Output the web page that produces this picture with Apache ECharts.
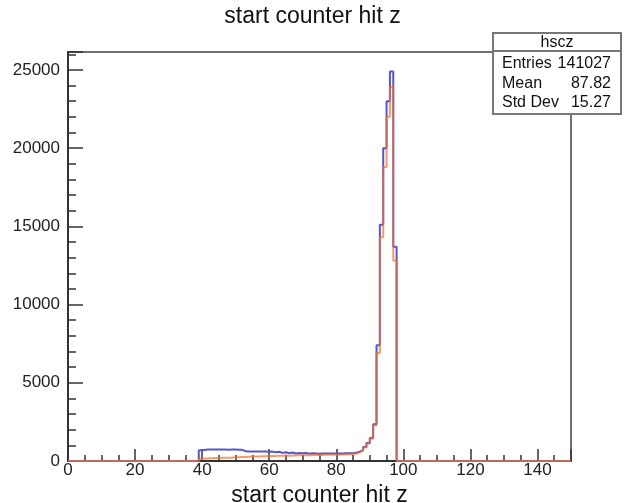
<!DOCTYPE html>
<html>
<head>
<meta charset="utf-8">
<script src="https://cdn.jsdelivr.net/npm/echarts@6/dist/echarts.min.js"></script>
<style>
  html, body { margin: 0; padding: 0; background: #fff; }
  #chart { width: 625px; height: 503px; }
</style>
</head>
<body>
<div id="chart"></div>
<script>
// Histogram binning: 1 unit wide bins, filled range starts at z = 39
const binLow = 39;
const xMin = 0, xMax = 150;

// hscz counts per bin (z = 39 .. 97)
const hsczCounts = [
  680, 720, 730, 735, 730, 730, 735, 730, 725, 730,
  730, 720, 715, 620, 615, 610, 605, 600, 600, 600,
  590, 600, 560, 590, 520, 560, 500, 540, 480, 515,
  500, 505, 470, 490, 480, 470, 480, 485, 480, 475,
  480, 480, 485, 490, 490, 500, 530, 600, 700, 900,
  1150, 1470, 2350, 7400, 15100, 20000, 23000, 24900, 13700
];

// second distribution overlaid on the same bins (z = 39 .. 97)
const overlayCounts = [
  150, 165, 170, 180, 185, 190, 200, 205, 215, 220,
  230, 240, 250, 260, 270, 280, 285, 295, 300, 305,
  315, 320, 325, 335, 330, 345, 340, 350, 345, 360,
  365, 370, 370, 380, 385, 390, 390, 395, 400, 405,
  400, 405, 410, 420, 430, 445, 480, 560, 660, 860,
  1100, 1420, 2280, 6900, 14300, 18800, 22000, 23900, 12800
];

const yTicks = [0, 5000, 10000, 15000, 20000, 25000];
const xTicks = [0, 20, 40, 60, 80, 100, 120, 140];

const statsName = 'hscz';
const statsRows = [
  ['Entries', '141027'],
  ['Mean', '87.82'],
  ['Std Dev', '15.27']
];

// Turn bin contents into step-line points covering the full axis range
function toSteps(counts) {
  const pts = [[xMin, 0]];
  for (let i = 0; i < counts.length; i++) {
    pts.push([binLow + i, counts[i]]);
  }
  pts.push([binLow + counts.length, 0]);
  pts.push([xMax, 0]);
  return pts;
}

const yMax = Math.max.apply(null, hsczCounts) * 1.05;
const font = 'Liberation Sans, Arial, sans-serif';

const chart = echarts.init(document.getElementById('chart'), null, { renderer: 'canvas' });

// Statistics box in the top-right corner
const boxL = 493, boxT = 33, boxW = 128, boxH = 81, headH = 18;
const statsGraphics = [
  { type: 'rect', shape: { x: boxL, y: boxT, width: boxW, height: boxH },
    style: { fill: '#fff', stroke: '#777', lineWidth: 2 }, z: 100 },
  { type: 'line', shape: { x1: boxL, y1: boxT + headH, x2: boxL + boxW, y2: boxT + headH },
    style: { stroke: '#777', lineWidth: 2 }, z: 101 },
  { type: 'text', x: boxL + boxW / 2, y: boxT + headH / 2 + 1,
    style: { text: statsName, font: '16px ' + font, fill: '#111', align: 'center', verticalAlign: 'middle' }, z: 102 }
];
statsRows.forEach(function (row, i) {
  const cy = boxT + headH + 13 + i * 19.5;
  statsGraphics.push({ type: 'text', x: boxL + 9, y: cy,
    style: { text: row[0], font: '16px ' + font, fill: '#111', align: 'left', verticalAlign: 'middle' }, z: 102 });
  statsGraphics.push({ type: 'text', x: boxL + boxW - 10, y: cy,
    style: { text: row[1], font: '16px ' + font, fill: '#111', align: 'right', verticalAlign: 'middle' }, z: 102 });
});

const labelOnTicks = function (list) {
  return function (v) { return list.indexOf(v) >= 0 ? String(v) : ''; };
};

chart.setOption({
  animation: false,
  backgroundColor: '#fff',
  title: {
    text: 'start counter hit z',
    left: 'center',
    top: 0,
    textStyle: { fontFamily: font, fontSize: 23, fontWeight: 'normal', color: '#111' }
  },
  grid: {
    left: 68, right: 54, top: 52, bottom: 42,
    outerBoundsMode: 'none', containLabel: false,
    show: true, borderColor: '#6f6f6f', borderWidth: 2, backgroundColor: 'transparent'
  },
  xAxis: [
    {
      type: 'value', min: xMin, max: xMax, interval: 20, position: 'bottom',
      name: 'start counter hit z', nameLocation: 'middle', nameGap: 21,
      nameTextStyle: { fontFamily: font, fontSize: 23, color: '#111' },
      axisLine: { show: true, onZero: false, lineStyle: { color: '#333', width: 2 } },
      axisTick: { show: true, inside: true, length: 12, lineStyle: { color: '#333', width: 1.5 } },
      axisLabel: { margin: 1, fontFamily: font, fontSize: 17, color: '#222', formatter: labelOnTicks(xTicks) },
      splitLine: { show: false }
    },
    {
      type: 'value', min: xMin, max: xMax, interval: 5, position: 'bottom',
      axisLine: { show: false, onZero: false },
      axisTick: { show: true, inside: true, length: 6, lineStyle: { color: '#333', width: 1.5 } },
      axisLabel: { show: false },
      splitLine: { show: false }
    }
  ],
  yAxis: [
    {
      type: 'value', min: 0, max: yMax, interval: 5000, position: 'left',
      axisLine: { show: true, onZero: false, lineStyle: { color: '#333', width: 2 } },
      axisTick: { show: true, inside: true, length: 15, lineStyle: { color: '#333', width: 1.5 } },
      axisLabel: { margin: 8, fontFamily: font, fontSize: 17, color: '#222', formatter: labelOnTicks(yTicks) },
      splitLine: { show: false }
    },
    {
      type: 'value', min: 0, max: yMax, interval: 1000, position: 'left',
      axisLine: { show: false, onZero: false },
      axisTick: { show: true, inside: true, length: 8, lineStyle: { color: '#333', width: 1.5 } },
      axisLabel: { show: false },
      splitLine: { show: false }
    }
  ],
  series: [
    {
      name: 'hscz', type: 'line', step: 'end', xAxisIndex: 0, yAxisIndex: 0,
      data: toSteps(hsczCounts), showSymbol: false, symbol: 'none',
      lineStyle: { color: 'rgb(85,85,205)', width: 2 }, z: 3
    },
    {
      name: 'overlay', type: 'line', step: 'end', xAxisIndex: 0, yAxisIndex: 0,
      data: toSteps(overlayCounts), showSymbol: false, symbol: 'none',
      lineStyle: { color: 'rgb(240,112,45)', width: 2, opacity: 0.7 }, z: 4
    }
  ],
  graphic: statsGraphics
});
</script>
</body>
</html>
